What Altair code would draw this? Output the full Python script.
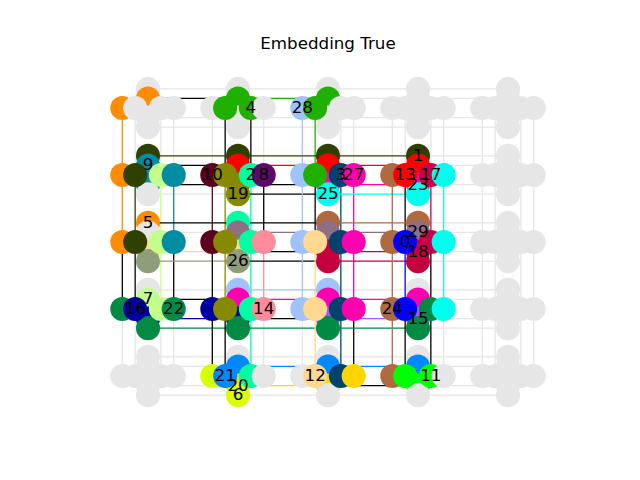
import altair as alt
import pandas as pd

# Chimera grid: 5 x 5 unit cells, 4 qubits per shore
ROWS, COLS, SHORE = 5, 5, 4
TILE = SHORE + 3
UNUSED = "#e6e6e6"

# chain colours
chain_colors = {
    "orange": "#ff8c00", "darkolive": "#2f4000", "teal": "#008ca3",
    "lightlime": "#c4ff8c", "maroon": "#5c001f", "olive": "#878a00",
    "mint": "#00ffa2", "purple": "#5c0a66", "red": "#ff0000",
    "green": "#1fb000", "lightblue": "#a0c2ff", "navy": "#00426e",
    "magenta": "#ff00b0", "cyan": "#00ffee", "crimson17": "#c8004a",
    "crimson18": "#c4003e", "brown": "#b06a40", "blue": "#0000ff",
    "mauve": "#8f6e86", "sage": "#8f9e7a", "peach": "#ffd98f",
    "salmon": "#ff8c9c", "darkgreen": "#008a44", "darkblue": "#00009c",
    "violet": "#a855ff", "yellowlime": "#d9ff00", "blue2": "#0088ff",
    "gold": "#ffd500", "brightgreen": "#00ff00",
}

# qubits of each chain as (row, col, shore, index)
chains = {
    "orange": [(0, 0, 0, 0), (0, 0, 1, 1), (1, 0, 0, 0), (2, 0, 0, 0), (2, 0, 1, 0)],
    "darkolive": [(1, 0, 1, 0), (1, 0, 0, 1), (1, 1, 1, 0), (1, 2, 1, 0), (1, 3, 1, 0), (2, 0, 0, 1)],
    "teal": [(1, 0, 1, 1), (1, 0, 0, 3), (1, 0, 1, 2), (2, 0, 0, 3)],
    "lightlime": [(1, 0, 0, 2), (2, 0, 0, 2), (3, 0, 0, 2), (3, 0, 1, 1)],
    "maroon": [(1, 1, 0, 0), (2, 1, 0, 0)],
    "olive": [(1, 1, 0, 1), (1, 1, 1, 2), (1, 1, 1, 3), (2, 1, 0, 1), (3, 1, 0, 1)],
    "mint": [(1, 1, 0, 2), (2, 1, 0, 2), (3, 1, 0, 2), (4, 1, 0, 2), (2, 1, 1, 0)],
    "purple": [(1, 1, 0, 3)],
    "red": [(1, 1, 1, 1), (1, 2, 1, 1), (1, 3, 1, 1), (1, 3, 0, 1)],
    "green": [(0, 1, 0, 1), (0, 1, 1, 1), (0, 1, 0, 2), (0, 2, 0, 1), (0, 2, 1, 1), (1, 2, 0, 1)],
    "lightblue": [(0, 2, 0, 0), (1, 2, 0, 0), (2, 2, 0, 0), (3, 2, 0, 0), (3, 2, 1, 0), (3, 1, 1, 0)],
    "navy": [(1, 2, 0, 2), (2, 2, 0, 2), (3, 2, 0, 2), (4, 2, 0, 2)],
    "magenta": [(1, 2, 0, 3), (2, 2, 0, 3), (3, 2, 0, 3), (1, 2, 1, 2), (1, 3, 1, 2),
                (3, 1, 1, 1), (3, 2, 1, 1), (3, 3, 1, 1)],
    "cyan": [(1, 2, 1, 3), (1, 3, 1, 3), (1, 3, 0, 3), (2, 3, 0, 3), (3, 3, 0, 3)],
    "crimson17": [(1, 3, 0, 2), (2, 3, 0, 2)],
    "crimson18": [(2, 2, 1, 2), (2, 2, 1, 3), (2, 3, 1, 3), (2, 3, 1, 2)],
    "brown": [(1, 3, 0, 0), (2, 3, 0, 0), (3, 3, 0, 0), (4, 3, 0, 0), (2, 3, 1, 0), (2, 2, 1, 0)],
    "blue": [(2, 3, 0, 1), (3, 3, 0, 1)],
    "mauve": [(2, 1, 1, 1), (2, 2, 1, 1), (2, 3, 1, 1)],
    "sage": [(2, 0, 1, 3), (2, 1, 1, 3)],
    "peach": [(2, 0, 1, 2), (2, 1, 1, 2), (2, 2, 0, 1), (3, 2, 0, 1), (4, 2, 0, 1)],
    "salmon": [(2, 1, 0, 3), (3, 1, 0, 3)],
    "darkgreen": [(3, 0, 0, 0), (3, 0, 0, 3), (3, 0, 1, 3), (3, 1, 1, 3), (3, 2, 1, 3),
                  (3, 3, 1, 3), (3, 3, 0, 2)],
    "darkblue": [(3, 0, 0, 1), (3, 0, 1, 2), (3, 1, 0, 0), (3, 1, 1, 2)],
    "violet": [(3, 2, 1, 2), (3, 3, 1, 2)],
    "yellowlime": [(4, 1, 0, 0), (4, 1, 1, 3)],
    "blue2": [(4, 1, 0, 1), (4, 1, 1, 1), (4, 2, 1, 1), (4, 3, 1, 1)],
    "gold": [(4, 1, 1, 2), (4, 2, 1, 2), (4, 2, 0, 3)],
    "brightgreen": [(4, 3, 0, 1), (4, 3, 0, 2), (4, 3, 1, 2)],
}

# variable labels and the qubit they are written on
labels = [
    ("0", (2, 3, 0, 1)), ("1", (1, 3, 1, 0)), ("2", (1, 1, 0, 2)), ("3", (1, 2, 0, 2)),
    ("4", (0, 1, 0, 2)), ("5", (2, 0, 1, 0)), ("6", (4, 1, 1, 3)), ("7", (3, 0, 1, 1)),
    ("8", (1, 1, 0, 3)), ("9", (1, 0, 1, 1)), ("10", (1, 1, 0, 0)), ("11", (4, 3, 0, 2)),
    ("12", (4, 2, 0, 1)), ("13", (1, 3, 0, 1)), ("14", (3, 1, 0, 3)), ("15", (3, 3, 1, 2)),
    ("16", (3, 0, 0, 1)), ("17", (1, 3, 0, 2)), ("18", (2, 3, 1, 2)), ("19", (1, 1, 1, 3)),
    ("20", (4, 1, 1, 2)), ("21", (4, 1, 0, 1)), ("22", (3, 0, 0, 3)), ("23", (1, 3, 1, 2)),
    ("24", (3, 3, 0, 0)), ("25", (1, 2, 1, 3)), ("26", (2, 1, 1, 3)), ("27", (1, 2, 0, 3)),
    ("28", (0, 2, 0, 0)), ("29", (2, 3, 1, 1)),
]


def layout(q):
    i, j, u, k = q
    p = k if k < SHORE // 2 else k + 1
    if u:
        return TILE * j + SHORE // 2, -(TILE * i + p)
    return TILE * j + p, -(TILE * i + SHORE // 2)


owner = {q: c for c, qs in chains.items() for q in qs}

# qubits in graph order (column-major cells, h0, v0..v3, h1..h3)
node_rows = []
for j in range(COLS):
    for i in range(ROWS):
        cell = [(0, 0)] + [(1, k) for k in range(SHORE)] + [(0, k) for k in range(1, SHORE)]
        for u, k in cell:
            q = (i, j, u, k)
            x, y = layout(q)
            c = owner.get(q)
            node_rows.append({"x": x, "y": y, "ord": len(node_rows),
                              "color": chain_colors[c] if c else UNUSED})
nodes_df = pd.DataFrame(node_rows)

# couplers between cells
edge_rows = []
for i in range(ROWS):
    for j in range(COLS):
        for k in range(SHORE):
            pairs = []
            if i + 1 < ROWS:
                pairs.append(((i, j, 0, k), (i + 1, j, 0, k)))
            if j + 1 < COLS:
                pairs.append(((i, j, 1, k), (i, j + 1, 1, k)))
            for a, b in pairs:
                ca, cb = owner.get(a), owner.get(b)
                if ca and ca == cb:
                    col, z = chain_colors[ca], 1
                elif ca and cb:
                    col, z = "black", 1
                else:
                    col, z = UNUSED, 0
                (x, y), (x2, y2) = layout(a), layout(b)
                edge_rows.append({"x": x, "y": y, "x2": x2, "y2": y2, "color": col, "z": z})
edges_df = pd.DataFrame(edge_rows).sort_values("z", kind="stable")

label_df = pd.DataFrame(
    [{"label": t, "x": layout(q)[0], "y": layout(q)[1]} for t, q in labels]
)

xs = alt.Scale(domain=[-3.29, 35.29], nice=False, zero=False)
ys = alt.Scale(domain=[-35.33, 3.75], nice=False, zero=False)

edges = alt.Chart(edges_df).mark_rule(strokeWidth=1.3).encode(
    x=alt.X("x:Q", scale=xs, axis=None),
    y=alt.Y("y:Q", scale=ys, axis=None),
    x2="x2:Q",
    y2="y2:Q",
    color=alt.Color("color:N", scale=None),
)

nodes = alt.Chart(nodes_df).mark_circle(size=579, opacity=1).encode(
    x=alt.X("x:Q", scale=xs, axis=None),
    y=alt.Y("y:Q", scale=ys, axis=None),
    color=alt.Color("color:N", scale=None),
    order=alt.Order("ord:Q"),
)

text = alt.Chart(label_df).mark_text(
    font="DejaVu Sans", fontSize=16.7, color="black", baseline="middle", align="center"
).encode(
    x=alt.X("x:Q", scale=xs, axis=None),
    y=alt.Y("y:Q", scale=ys, axis=None),
    text="label:N",
)

chart = alt.layer(edges, nodes, text).properties(
    width=496,
    height=374,
    title=alt.Title("Embedding True", font="DejaVu Sans", fontSize=16.7,
                    fontWeight="normal", anchor="middle", offset=0, color="black"),
    autosize=alt.AutoSizeParams(type="none"),
    padding={"left": 72, "top": 45, "right": 56, "bottom": 45},
).configure_view(stroke=None)

chart.save("out.html", embed_options={"renderer": "svg", "actions": False})
